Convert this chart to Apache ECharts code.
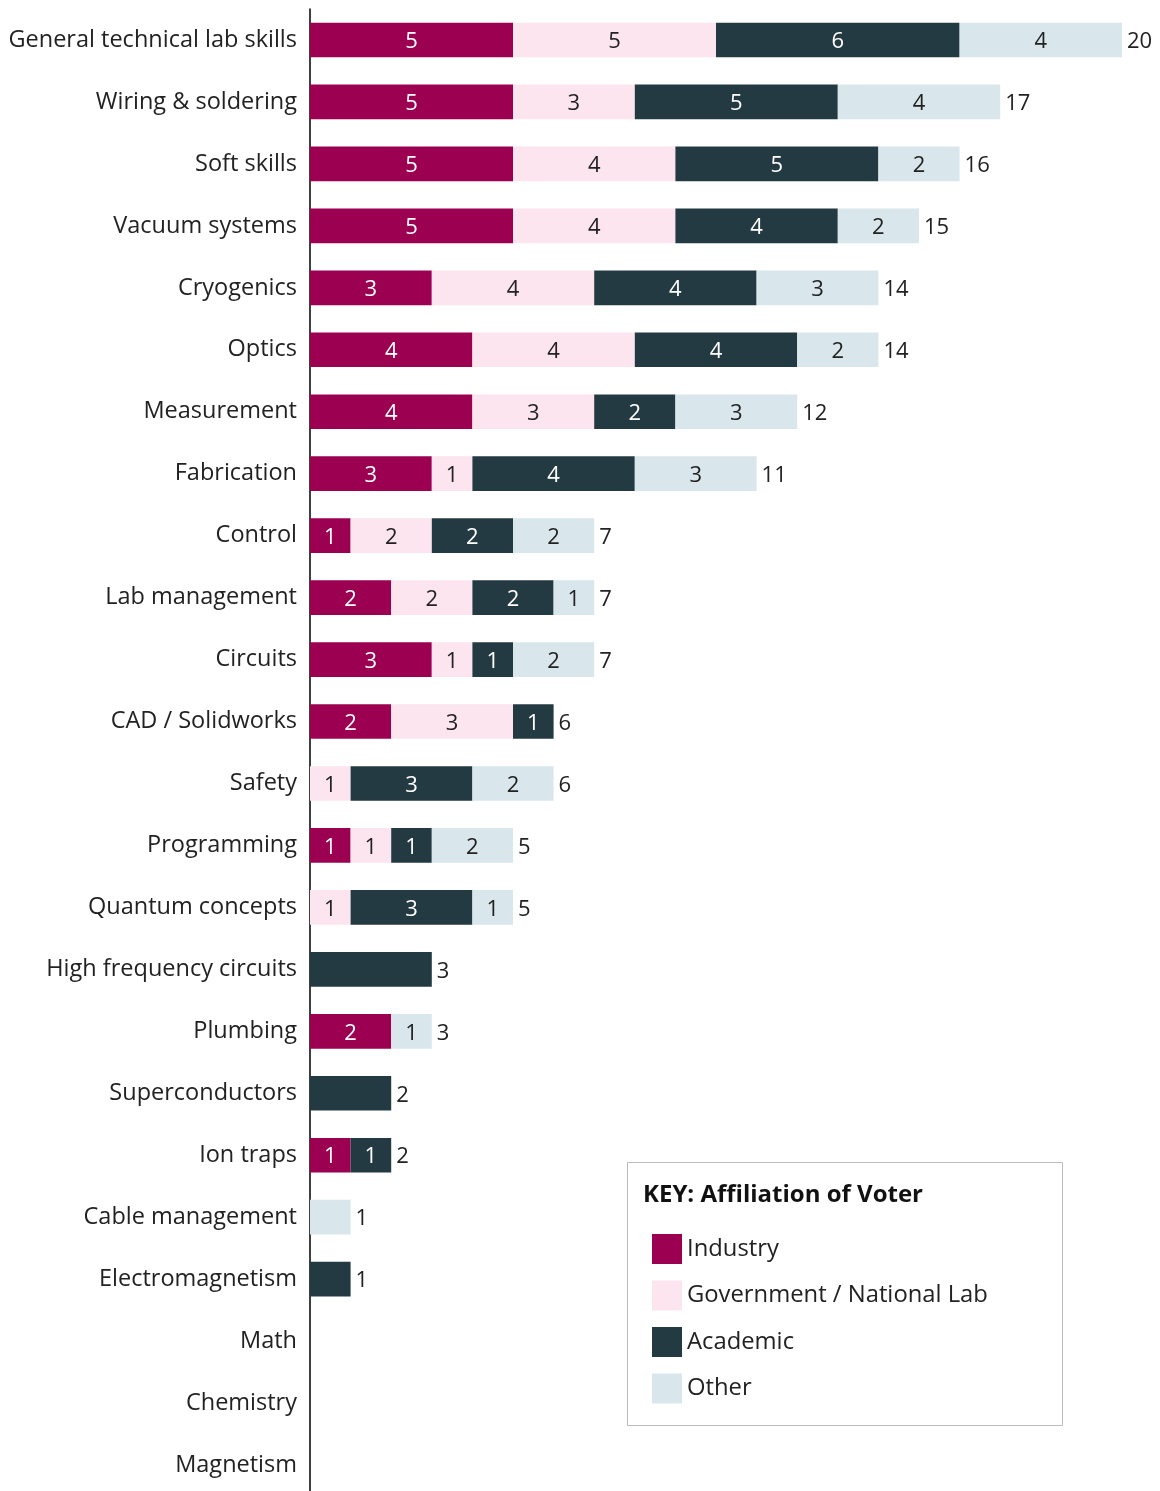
<!DOCTYPE html>
<html><head><meta charset="utf-8">
<script src="https://cdn.jsdelivr.net/npm/echarts@6/dist/echarts.min.js"></script>
<style>html,body{margin:0;padding:0;background:#fff}#c{width:1160px;height:1491px}</style>
</head><body><div id="c"></div>
<script>
const categories = ['General technical lab skills','Wiring & soldering','Soft skills','Vacuum systems','Cryogenics','Optics','Measurement','Fabrication','Control','Lab management','Circuits','CAD / Solidworks','Safety','Programming','Quantum concepts','High frequency circuits','Plumbing','Superconductors','Ion traps','Cable management','Electromagnetism','Math','Chemistry','Magnetism'];
const industry   = [5,5,5,5,3,4,4,3,1,2,3,2,0,1,0,0,2,0,1,0,0,0,0,0];
const government = [5,3,4,4,4,4,3,1,2,2,1,3,1,1,1,0,0,0,0,0,0,0,0,0];
const academic   = [6,5,5,4,4,4,2,4,2,2,1,1,3,1,3,3,0,2,1,0,1,0,0,0];
const other      = [4,4,2,2,3,2,3,3,2,1,2,0,2,2,1,0,1,0,0,1,0,0,0,0];
const seriesNames = ['Industry','Government / National Lab','Academic','Other'];
const noInnerLabel = ['High frequency circuits','Superconductors','Cable management','Electromagnetism'];
const totals = categories.map((c,i)=>industry[i]+government[i]+academic[i]+other[i]);

const colors = ['#9B0051','#FDE5F0','#243A42','#D9E7EC'];
const labelColors = ['#ffffff','#222222','#ffffff','#222222'];
const FONT = '"Open Sans"';

const chart = echarts.init(document.getElementById('c'));
const datas = [industry, government, academic, other];
const series = datas.map((arr, si) => ({
  name: seriesNames[si], type: 'bar', stack: 'total', barWidth: '56%',
  itemStyle: {color: colors[si]},
  label: {show: true, position: 'inside', offset: [0, 2], color: labelColors[si], fontFamily: FONT, fontSize: 22,
    formatter: p => p.value > 0 ? String(p.value) : ''},
  data: arr.map((v, i) => noInnerLabel.includes(categories[i]) ? {value: v, label: {show: false}} : v)
}));
series.push({
  name: 'Total', type: 'bar', stack: 'total', barWidth: '56%',
  itemStyle: {color: 'transparent'},
  label: {show: true, position: 'right', offset: [0, 2], distance: 5, color: '#222', fontFamily: FONT, fontSize: 22,
    formatter: p => totals[p.dataIndex] > 0 ? String(totals[p.dataIndex]) : ''},
  data: categories.map(() => 0), silent: true
});

chart.setOption({
  animation: false,
  grid: {left: 310, top: 9, width: 812, height: 1487, outerBoundsMode: 'none', containLabel: false},
  xAxis: {type: 'value', min: 0, max: 20, show: false, splitLine: {show: false}},
  yAxis: {type: 'category', data: categories, inverse: true,
    axisLine: {lineStyle: {color: '#000', width: 1.5}}, axisTick: {show: false},
    axisLabel: {margin: 13, color: '#222', fontFamily: FONT, fontSize: 23.5, padding: [4, 0, 0, 0]}},
  legend: {data: seriesNames, orient: 'vertical', left: 647, top: 1229, itemWidth: 30, itemHeight: 30,
    itemGap: 16.5, icon: 'rect', selectedMode: false,
    textStyle: {color: '#222', fontFamily: FONT, fontSize: 23.8}},
  graphic: [
    {type: 'rect', shape: {x: 627.5, y: 1162.5, width: 435, height: 263}, style: {fill: 'none', stroke: '#bbb', lineWidth: 1}},
    {type: 'text', x: 643, y: 1195, style: {text: 'KEY: Affiliation of Voter', font: 'bold 24px "Open Sans"', fill: '#111', verticalAlign: 'middle'}}
  ],
  series: series
});
</script></body></html>
